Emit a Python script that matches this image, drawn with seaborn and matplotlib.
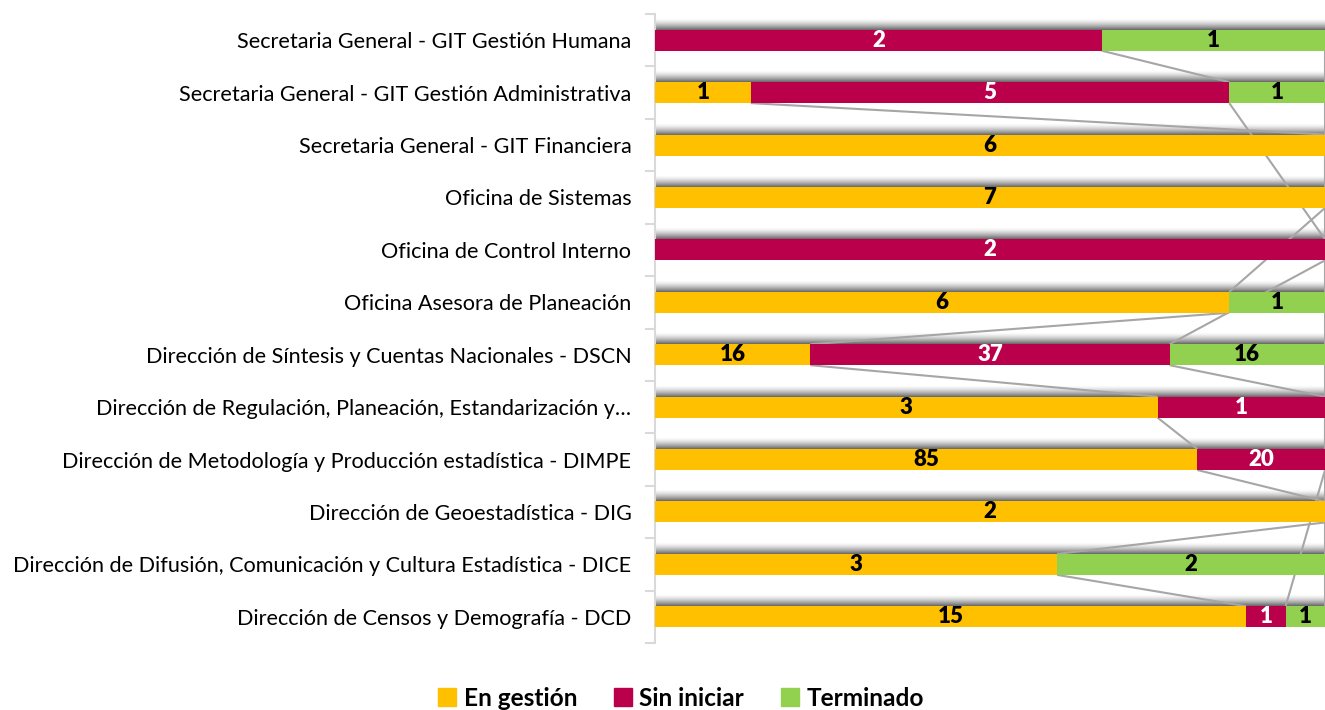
import numpy as np
import pandas as pd
import matplotlib
matplotlib.use("Agg")
import matplotlib.pyplot as plt
import seaborn as sns

areas = [
    "Secretaria General - GIT Gestión Humana",
    "Secretaria General - GIT Gestión Administrativa",
    "Secretaria General - GIT Financiera",
    "Oficina de Sistemas",
    "Oficina de Control Interno",
    "Oficina Asesora de Planeación",
    "Dirección de Síntesis y Cuentas Nacionales - DSCN",
    "Dirección de Regulación, Planeación, Estandarización y…",
    "Dirección de Metodología y Producción estadística - DIMPE",
    "Dirección de Geoestadística - DIG",
    "Dirección de Difusión, Comunicación y Cultura Estadística - DICE",
    "Dirección de Censos y Demografía - DCD",
]
en_gestion = [np.nan, 1, 6, 7, np.nan, 6, 16, 3, 85, 2, 3, 15]
sin_iniciar = [2, 5, np.nan, np.nan, 2, np.nan, 37, 1, 20, np.nan, np.nan, 1]
terminado = [1, 1, np.nan, np.nan, np.nan, 1, 16, np.nan, np.nan, np.nan, 2, 1]

series = ["En gestión", "Sin iniciar", "Terminado"]
colors = ["#FFC000", "#BA004A", "#92D050"]
text_colors = ["black", "white", "black"]

df = pd.DataFrame({"area": areas, "En gestión": en_gestion,
                   "Sin iniciar": sin_iniciar, "Terminado": terminado})
vals = df[series].fillna(0)
total = vals.sum(axis=1)
share = vals.div(total, axis=0)
cum = share.cumsum(axis=1)
for s in series:
    df["cum_" + s] = cum[s]

bar_w = 0.4
shadow_h = 0.21

fig = plt.figure(figsize=(13.25, 7.1), dpi=100)
ax = fig.add_axes([655 / 1325, 1 - 643 / 710, 1 - 655 / 1325, (643 - 14) / 710])

# stacked bars: draw cumulative totals from the back to the front
for s, c in reversed(list(zip(series, colors))):
    sns.barplot(data=df, y="area", x="cum_" + s, color=c, orient="h",
                width=bar_w, saturation=1, ax=ax, zorder=3)

n = len(areas)

# soft shadow above each bar
grad = np.zeros((40, 1, 4))
t = np.linspace(0, 1, 40)
grad[:, 0, 3] = 0.6 * t ** 1.5
for i in range(n):
    top = i - bar_w / 2
    ax.imshow(grad, extent=(0, 1, top, top - shadow_h), aspect="auto",
              interpolation="bilinear", zorder=1)

# series lines between neighbouring bars (skip blanks)
for s in series:
    raw = df[s].values
    idx = [i for i in range(n) if not np.isnan(raw[i])]
    for a, b in zip(idx[:-1], idx[1:]):
        ax.plot([df["cum_" + s][a], df["cum_" + s][b]],
                [a + bar_w / 2, b - bar_w / 2],
                color="#a6a6a6", lw=1.5, zorder=2, solid_capstyle="butt")

# value labels
for k, s in enumerate(series):
    for i in range(n):
        v = df[s][i]
        if np.isnan(v):
            continue
        x = cum[s][i] - share[s][i] / 2
        ax.text(x, i, f"{int(v)}", ha="center", va="center",
                fontsize=16, fontweight="heavy", color=text_colors[k],
                family="Lato", zorder=5)

ax.set_xlim(0, 1)
ax.set_ylim(n - 0.5, -0.5)
ax.set_xlabel("")
ax.set_ylabel("")
ax.set_xticks([])
for sp in ["top", "right", "bottom"]:
    ax.spines[sp].set_visible(False)
ax.spines["left"].set_color("#d9d9d9")
ax.spines["left"].set_linewidth(1.5)
ax.set_yticks(range(n))
ax.set_yticklabels(areas, fontsize=15.6, family="Lato")
ax.set_yticks(np.arange(-0.5, n, 1), minor=True)
ax.tick_params(axis="y", which="major", length=0, pad=17)
ax.tick_params(axis="y", which="minor", length=7, color="#d9d9d9", width=1.5)
ax.set_facecolor("white")

handles = [plt.Rectangle((0, 0), 1, 1, color=c) for c in colors]
fig.legend(handles, series, loc="center", bbox_to_anchor=(681 / 1325, 1 - 698 / 710),
           ncol=3, frameon=False, prop={"family": "Lato", "weight": "bold", "size": 17.6},
           handlelength=0.75, handleheight=0.75, handletextpad=0.3, columnspacing=1.5)

fig.savefig("out.png", dpi=100)
